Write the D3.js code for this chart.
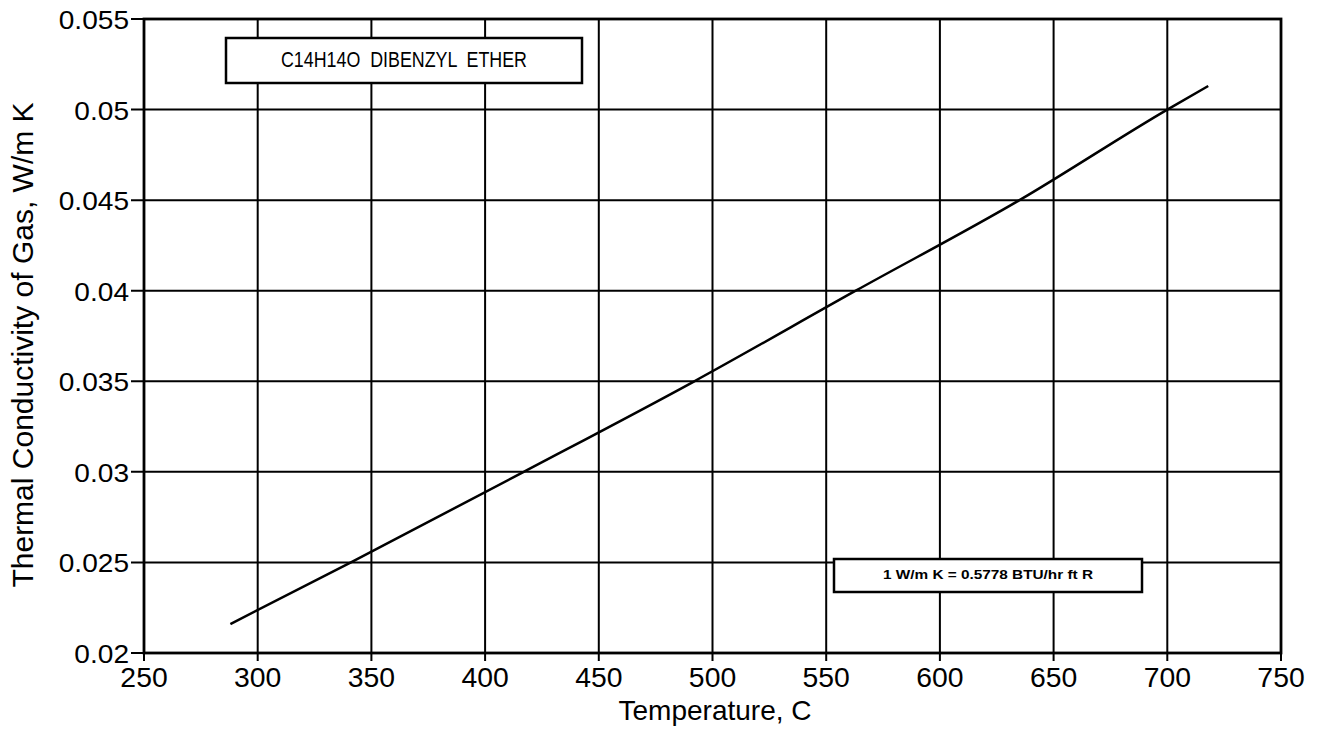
<!DOCTYPE html>
<html><head><meta charset="utf-8">
<script src="https://cdn.jsdelivr.net/npm/d3@7"></script>
<style>body{margin:0;background:#fff}svg{display:block}text{font-family:"Liberation Sans",Arial,sans-serif;fill:#000}</style>
</head><body>
<svg id="c" width="1326" height="735"></svg>
<script>
const temps = [288, 341, 417, 492, 563, 635, 700, 718];
const cond  = [0.0216, 0.0250, 0.0300, 0.0350, 0.0400, 0.0450, 0.0500, 0.0513];
const xTicks = [250, 300, 350, 400, 450, 500, 550, 600, 650, 700, 750];
const yTicks = [0.02, 0.025, 0.03, 0.035, 0.04, 0.045, 0.05, 0.055];
const yLabels = ["0.02","0.025","0.03","0.035","0.04","0.045","0.05","0.055"];
const titleText = "C14H14O  DIBENZYL  ETHER";
const noteText = "1 W/m K = 0.5778 BTU/hr ft R";

const svg = d3.select("#c");
const L=144, R=1281, T=19, B=653;
const x = d3.scaleLinear().domain([250,750]).range([L,R]);
const y = d3.scaleLinear().domain([0.02,0.055]).range([B,T]);

// grid
svg.append("g").selectAll("line").data(xTicks).join("line")
  .attr("x1",d=>x(d)).attr("x2",d=>x(d)).attr("y1",T).attr("y2",B+8)
  .attr("stroke","#000").attr("stroke-width",2);
svg.append("g").selectAll("line").data(yTicks).join("line")
  .attr("x1",L-13).attr("x2",R).attr("y1",d=>y(d)).attr("y2",d=>y(d))
  .attr("stroke","#000").attr("stroke-width",2);
svg.append("rect").attr("x",L).attr("y",T).attr("width",R-L).attr("height",B-T)
  .attr("fill","none").attr("stroke","#000").attr("stroke-width",2.8);

// tick labels
svg.append("g").selectAll("text").data(xTicks).join("text")
  .attr("transform",d=>`translate(${x(d)},687) scale(1.05,1)`).attr("text-anchor","middle")
  .attr("font-size",27).text(d=>d);
svg.append("g").selectAll("text").data(yTicks).join("text")
  .attr("transform",d=>`translate(129,${y(d)+10}) scale(1.08,1)`).attr("text-anchor","end")
  .attr("font-size",26).text((d,i)=>yLabels[i]);

// axis titles
svg.append("text").attr("x",715).attr("y",720).attr("text-anchor","middle")
  .attr("font-size",28).text("Temperature, C");
svg.append("text").attr("transform",`translate(33,345) rotate(-90)`)
  .attr("text-anchor","middle").attr("font-size",30).text("Thermal Conductivity of Gas, W/m K");

// line
const line = d3.line().x((d,i)=>x(temps[i])).y(d=>y(d)).curve(d3.curveMonotoneX);
svg.append("path").datum(cond).attr("d",line).attr("fill","none")
  .attr("stroke","#000").attr("stroke-width",2.5);

// title box
svg.append("rect").attr("x",226).attr("y",38).attr("width",356).attr("height",45)
  .attr("fill","#fff").attr("stroke","#000").attr("stroke-width",2.5);
svg.append("text").attr("x",404).attr("y",67).attr("text-anchor","middle")
  .attr("xml:space","preserve").style("white-space","pre")
  .attr("font-size",22).attr("textLength",246).attr("lengthAdjust","spacingAndGlyphs").text(titleText);

// note box
svg.append("rect").attr("x",834).attr("y",559).attr("width",308).attr("height",33)
  .attr("fill","#fff").attr("stroke","#000").attr("stroke-width",2.5);
svg.append("text").attr("x",988).attr("y",579).attr("text-anchor","middle")
  .attr("font-size",13).attr("font-weight","bold")
  .attr("textLength",210).attr("lengthAdjust","spacingAndGlyphs").text(noteText);
</script>
</body></html>
